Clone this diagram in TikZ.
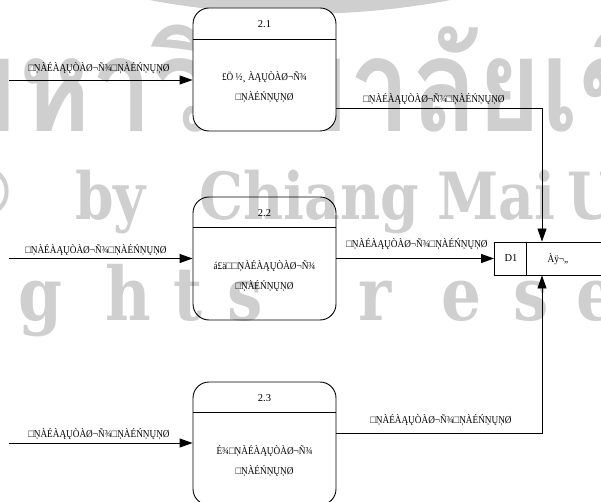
\documentclass[tikz,border=0pt]{standalone}
\usepackage{fontspec}
\setmainfont{Liberation Serif}
\newfontfamily\thaimark[Script=Thai, FakeStretch=0.84]{Loma}
\newfontfamily\markfont[FakeStretch=0.85]{DejaVu Serif}
\usetikzlibrary{arrows.meta}

\definecolor{wmgray}{gray}{0.81}

% repeated flow and item texts, set slightly condensed
\newcommand\sq[1]{\scalebox{0.88}[1]{#1}}
\newcommand\flowtxt{\sq{□ŅÀÉÀĄŲÒÀØ¬Ñ¾□ŅÀÉŃŅŲŅØ}}
\newcommand\itemtxt{\sq{□ŅÀÉŃŅŲŅØ}}
\newcommand\verbtxt{ÀĄŲÒÀØ¬Ñ¾}

\begin{document}
\begin{tikzpicture}[x=1pt,y=-1pt,
  every node/.style={inner sep=0pt},
  proc/.style={draw, line width=0.9pt, rounded corners=16pt,
    minimum width=143pt, minimum height=123pt},
  flow/.style={draw, line width=0.9pt, -{Triangle[length=13pt,width=9pt]}},
  lbl/.style={font=\fontsize{10.5}{20}\selectfont, align=center},
  wm/.style={text=wmgray, anchor=base west},
  wmlat/.style={wm, font=\markfont\bfseries\fontsize{65}{65}\selectfont},
  wmrow/.style={text=wmgray, anchor=base, font=\markfont\bfseries\fontsize{74}{74}\selectfont}]

\useasboundingbox (0,0) rectangle (601,502);

% background watermark
\begin{scope}
  \clip (0,0) rectangle (601,502);
  \draw[wmgray, line width=20pt] (300,-796) circle[radius=800];
  \node[wm, font=\thaimark\bfseries\fontsize{130}{130}\selectfont]
    (wth) at (-53,132) {มหาวิทยาลัยเชียงใหม่};
  \node[wmlat, anchor=base east] (wc) at (17,216) {©};
  \node[wmlat] (wby) at (75,220) {by};
  \node[wmlat] (wchiang) at (199,220) {Chiang};
  \node[wmlat] (wmai) at (437,220) {Mai};
  \node[wmlat] (wuni) at (567,220) {University};
  \foreach \ch/\px [count=\i] in {g/40,h/128,t/188,s/245,r/375,e/462,s/531,e/596}
    \node[wmrow] (wr\i) at (\px,320) {\ch};
\end{scope}

% processes
\node[proc, fill=white] (p1) at (264.5,69.5) {};
\node[proc] (p2) at (264.5,258.5) {};
\node[proc] (p3) at (264.5,443.5) {};
\foreach \p/\t/\h in {p1/2.1/32, p2/2.2/31, p3/2.3/31} {
  \draw[line width=0.9pt] ([yshift=-\h pt]\p.north west) -- ([yshift=-\h pt]\p.north east);
  \node[lbl] (\p t) at ([yshift=-\h pt/2-1pt]\p.north) {\t};
}
\node[lbl] (p1b) at ([yshift=-80pt]p1.north) {\sq{£Ö ½¸ \verbtxt}\\\itemtxt};
\node[lbl] (p2b) at ([yshift=-80pt]p2.north) {\sq{á£ä□□ŅÀÉ\verbtxt}\\\itemtxt};
\node[lbl] (p3b) at ([yshift=-80pt]p3.north) {\sq{É¾□ŅÀÉ\verbtxt}\\\itemtxt};

% data store
\node[draw, line width=0.9pt, minimum width=160pt, minimum height=33pt, anchor=west]
  (ds) at (494,258.5) {};
\draw[line width=0.9pt] ([xshift=32pt]ds.north west) -- ([xshift=32pt]ds.south west);
\node[lbl] (dsid) at (511,258.5) {D1};
\node[lbl] (dsname) at (558,259) {\sq{Àÿ¬„}};

% incoming flows
\coordinate (i1) at (9,80);
\coordinate (i2) at (9,258.5);
\coordinate (i3) at (9,443);
\draw[flow] (i1) -- (i1 -| p1.west);
\draw[flow] (i2) -- (i2 -| p2.west);
\draw[flow] (i3) -- (i3 -| p3.west);
\node[lbl] (l1) at (99,68) {\flowtxt};
\node[lbl] (l2) at (96,250) {\flowtxt};
\node[lbl] (l3) at (99,434) {\flowtxt};

% flows into the data store
\coordinate (o1) at (542,108);
\coordinate (o3) at (542,433);
\draw[flow] (p1.east |- o1) -- (o1) -- (o1 |- ds.north);
\draw[flow] (p2.east) -- (ds.west);
\draw[flow] (p3.east |- o3) -- (o3) -- (o3 |- ds.south);
\node[lbl] (l4) at (434,99) {\flowtxt};
\node[lbl] (l5) at (417,244) {\flowtxt};
\node[lbl] (l6) at (441,420) {\flowtxt};
\end{tikzpicture}
\end{document}
